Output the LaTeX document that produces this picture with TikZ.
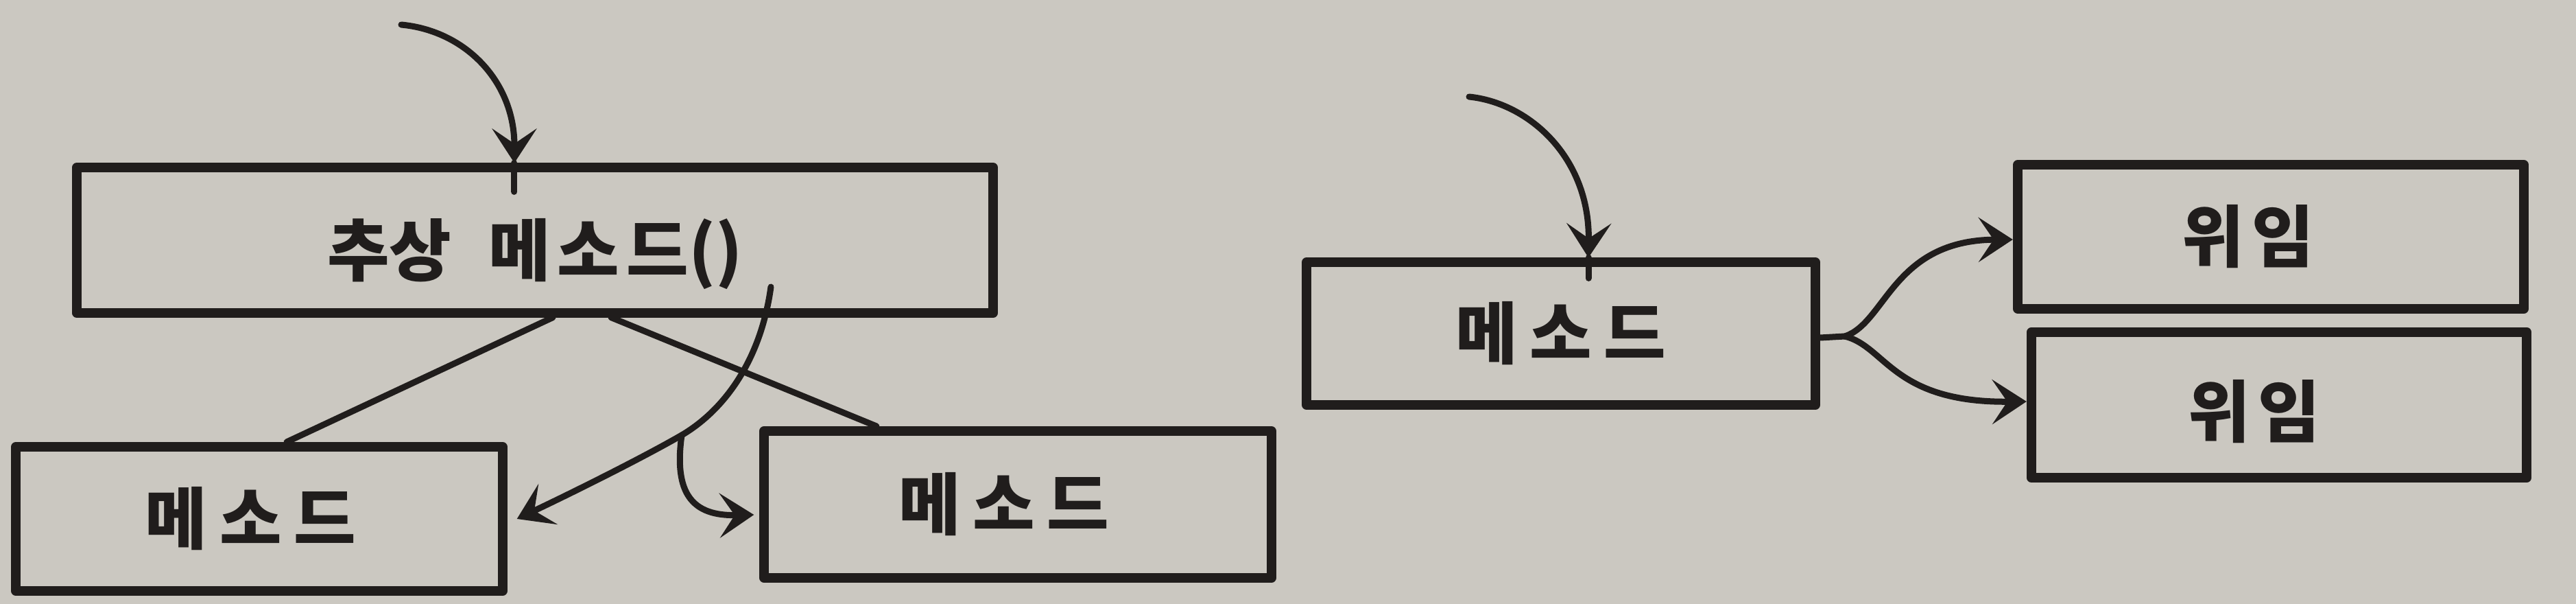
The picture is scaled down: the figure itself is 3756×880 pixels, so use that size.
\documentclass[tikz,border=0pt]{standalone}
\usepackage{fontspec}
\newfontfamily\kr{Noto Sans CJK KR}
\usetikzlibrary{arrows.meta}
\definecolor{paper}{RGB}{203,200,193}
\definecolor{ink}{RGB}{32,29,28}
\begin{document}
\begin{tikzpicture}[x=0.01cm,y=-0.01cm,
  box/.style={draw=ink, line width=0.14cm, line join=round, rectangle, inner sep=0pt,
              font=\kr\bfseries\fontsize{28}{32}\selectfont, text=ink},
  conn/.style={draw=ink, line width=0.09cm, line cap=round},
  tip/.style={-{Stealth[length=0.5cm,width=0.65cm,inset=0.22cm]}},
]
\fill[paper] (0,0) rectangle (3756,880);
\useasboundingbox (0,0) rectangle (3756,880);

% left part
\node[box, minimum width=13.36cm, minimum height=2.11cm] (abs) at (780,350)
  {\raisebox{-0.2cm}[\height][\depth]{추상\hspace{0.55em}메\hspace{0.1em}소\hspace{0.1em}드()}};
\node[box, minimum width=7.09cm, minimum height=2.10cm] (m1) at (378,756)
  {메\hspace{0.18em}소\hspace{0.18em}드\kern0.25cm};
\node[box, minimum width=7.39cm, minimum height=2.14cm] (m2) at (1484,735)
  {메\hspace{0.18em}소\hspace{0.18em}드\kern0.4cm};

\coordinate (s1) at (585,36);
\coordinate (f0) at (1124,418);
\coordinate (f1) at (994,634);

\draw[conn] ([xshift=0.26cm]abs.south) -- ([xshift=0.40cm]m1.north);
\draw[conn] ([xshift=1.11cm]abs.south) -- ([xshift=-2.06cm]m2.north);

\draw[conn,tip] (s1) .. controls (680,45) and (750,120) .. ([xshift=-0.30cm]abs.north);
\draw[conn] ([xshift=-0.30cm]abs.north) -- ++(0,42);

\draw[conn] (f0) .. controls (1110,520) and (1060,595) .. (f1);
\draw[conn,tip] (f1) .. controls (935,668) and (830,720) .. ([xshift=0.14cm]m1.east);
\draw[conn,tip] (f1) .. controls (982,720) and (1010,752) .. ([xshift=-0.08cm,yshift=-0.15cm]m2.west);

% right part
\node[box, minimum width=7.42cm, minimum height=2.07cm] (m3) at (2276,486)
  {메\hspace{0.18em}소\hspace{0.18em}드};
\node[box, minimum width=7.38cm, minimum height=2.09cm] (d1) at (3311,345)
  {위\hspace{0.12em}임\kern0.66cm};
\node[box, minimum width=7.22cm, minimum height=2.12cm] (d2) at (3323,590)
  {\raisebox{-0.1cm}[\height][\depth]{위\hspace{0.12em}임}\kern0.72cm};

\coordinate (s2) at (2142,141);
\coordinate (f2) at (2690,490);

\draw[conn,tip] (s2) .. controls (2230,150) and (2318,230) .. ([xshift=0.40cm]m3.north);
\draw[conn] ([xshift=0.40cm]m3.north) -- ++(0,30);

\draw[conn] ([yshift=-0.06cm]m3.east) -- (f2);
\draw[conn,tip] (f2) .. controls (2750,470) and (2760,350) .. ([yshift=-0.04cm]d1.west);
\draw[conn,tip] (f2) .. controls (2750,505) and (2760,587) .. ([yshift=0.05cm]d2.west);
\end{tikzpicture}
\end{document}
